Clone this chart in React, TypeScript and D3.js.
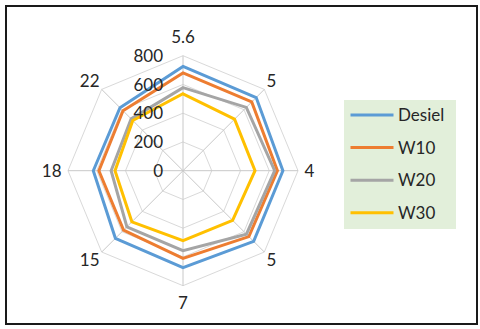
import React, { useEffect, useRef } from "react";
import * as d3 from "d3";

// categories clockwise from the top
const categories = ["5.6", "5", "4", "5", "7", "15", "18", "22"];
const seriesNames = ["Desiel", "W10", "W20", "W30"];
const desiel = [725, 720, 695, 695, 675, 665, 624, 620];
const w10 = [680, 676, 657, 648, 610, 585, 585, 590];
const w20 = [578, 623, 638, 624, 556, 552, 500, 510];
const w30 = [535, 507, 501, 488, 487, 503, 473, 494];
const radialTicks = [0, 200, 400, 600, 800];
const colors = ["#5b9bd5", "#ed7d31", "#a5a5a5", "#ffc000"];

const W = 480;
const H = 329;

const App = () => {
  const svgRef = useRef<SVGSVGElement>(null);

  useEffect(() => {
    const svg = d3.select(svgRef.current);
    svg.selectAll("*").remove();

    const cx = 183;
    const cy = 170.7;
    const R = 115;
    const font = "Lato, 'Open Sans', sans-serif";

    const r = d3.scaleLinear().domain([0, 800]).range([0, R]);
    const angle = d3
      .scalePoint<number>()
      .domain(d3.range(categories.length))
      .range([0, 2 * Math.PI])
      .padding(0);
    const ang = (i: number) => (i * 2 * Math.PI) / categories.length;

    // white background + frame
    svg.append("rect").attr("width", W).attr("height", H).attr("fill", "#fff");
    svg
      .append("rect")
      .attr("x", 6)
      .attr("y", 6)
      .attr("width", 471)
      .attr("height", 318)
      .attr("fill", "none")
      .attr("stroke", "#1a1a1a")
      .attr("stroke-width", 2);

    const g = svg.append("g").attr("transform", `translate(${cx},${cy})`);

    const ringLine = d3
      .lineRadial<number>()
      .angle((_, i) => ang(i))
      .curve(d3.curveLinearClosed);

    // grid rings
    radialTicks.slice(1).forEach((t) => {
      g.append("path")
        .attr("d", ringLine.radius(() => r(t))(categories.map(() => t)))
        .attr("fill", "none")
        .attr("stroke", "#d9d9d9")
        .attr("stroke-width", 1);
    });

    // spokes
    categories.forEach((_, i) => {
      const a = ang(i);
      g.append("line")
        .attr("x1", 0)
        .attr("y1", 0)
        .attr("x2", r(800) * Math.sin(a))
        .attr("y2", -r(800) * Math.cos(a))
        .attr("stroke", "#c8c8c8")
        .attr("stroke-width", 1);
    });

    // series
    const all = [desiel, w10, w20, w30];
    const seriesLine = d3
      .lineRadial<number>()
      .angle((_, i) => ang(i))
      .radius((d) => r(d))
      .curve(d3.curveLinearClosed);
    all.forEach((vals, k) => {
      g.append("path")
        .attr("d", seriesLine(vals))
        .attr("fill", "none")
        .attr("stroke", colors[k])
        .attr("stroke-width", 3)
        .attr("stroke-linejoin", "miter");
    });

    // category labels
    categories.forEach((c, i) => {
      const a = ang(i);
      const s = Math.sin(a);
      const co = Math.cos(a);
      let gap = 3;
      if (Math.abs(s) < 0.1) gap = co > 0 ? 13 : 11.5;
      else if (Math.abs(co) < 0.1) gap = 6.5;
      const x = (R + gap) * s;
      const y = -(R + gap) * co;
      const anchor = s > 0.1 ? "start" : s < -0.1 ? "end" : "middle";
      let dy = "0.36em";
      if (co > 0.1) dy = "0em";
      else if (co < -0.1) dy = "0.72em";
      g.append("text")
        .attr("x", x)
        .attr("y", y)
        .attr("dy", dy)
        .attr("text-anchor", anchor)
        .attr("font-family", font)
        .attr("font-size", 17)
        .attr("fill", "#262626")
        .text(c);
    });

    // radial axis labels
    radialTicks.forEach((t) => {
      g.append("text")
        .attr("x", -20)
        .attr("y", -r(t))
        .attr("dy", "0.36em")
        .attr("text-anchor", "end")
        .attr("font-family", font)
        .attr("font-size", 17)
        .attr("fill", "#262626")
        .text(t);
    });

    // legend
    const lx = 344;
    const ly = 100;
    svg
      .append("rect")
      .attr("x", lx)
      .attr("y", ly)
      .attr("width", 112)
      .attr("height", 129)
      .attr("fill", "#e2efda");
    const rowY = d3
      .scalePoint<string>()
      .domain(seriesNames)
      .range([115, 212.7]);
    seriesNames.forEach((name, k) => {
      const y = rowY(name) as number;
      svg
        .append("line")
        .attr("x1", 350.5)
        .attr("x2", 393.5)
        .attr("y1", y)
        .attr("y2", y)
        .attr("stroke", colors[k])
        .attr("stroke-width", 3);
      svg
        .append("text")
        .attr("x", 398)
        .attr("y", y)
        .attr("dy", "0.36em")
        .attr("font-family", font)
        .attr("font-size", 17)
        .attr("fill", "#262626")
        .text(name);
    });
    void angle;
  }, []);

  return (
    <svg
      ref={svgRef}
      width={W}
      height={H}
      style={{ position: "absolute", left: 0, top: 0 }}
    />
  );
};

export default App;
